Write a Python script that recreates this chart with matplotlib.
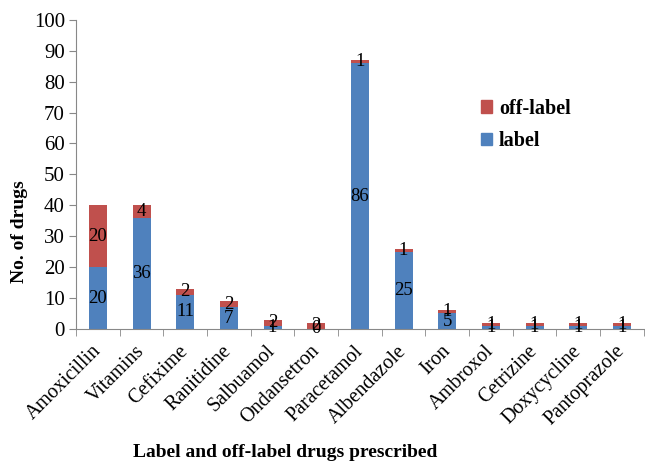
import matplotlib
matplotlib.use("Agg")
import matplotlib.pyplot as plt
import numpy as np
from matplotlib.patches import Patch
from matplotlib.ticker import FixedLocator

categories = ["Amoxicillin", "Vitamins", "Cefixime", "Ranitidine", "Salbuamol",
              "Ondansetron", "Paracetamol", "Albendazole", "Iron", "Ambroxol",
              "Cetrizine", "Doxycycline", "Pantoprazole"]
label_vals = [20, 36, 11, 7, 1, 0, 86, 25, 5, 1, 1, 1, 1]
off_label_vals = [20, 4, 2, 2, 2, 2, 1, 1, 1, 1, 1, 1, 1]

plt.rcParams['font.family'] = ['Liberation Serif', 'DejaVu Serif']

blue = "#4F81BD"
red = "#C0504D"

fig = plt.figure(figsize=(6.45, 4.62), dpi=100)
ax = fig.add_axes([0.118, 0.288, 0.88, 0.669])

x = np.arange(len(categories))
w = 0.41
ax.bar(x, label_vals, w, color=blue, label="label", zorder=2)
ax.bar(x, off_label_vals, w, bottom=label_vals, color=red, label="off-label", zorder=2)

for i in range(len(categories)):
    ax.text(x[i], label_vals[i] / 2, str(label_vals[i]), ha='center', va='center',
            fontsize=13.5, color='black', zorder=3)
    ax.text(x[i], label_vals[i] + off_label_vals[i] / 2, str(off_label_vals[i]),
            ha='center', va='center', fontsize=13.5, color='black', zorder=3)

ax.set_xlim(-0.5, len(categories) - 0.5)
ax.set_ylim(0, 100)
ax.set_yticks(np.arange(0, 101, 10))
ax.tick_params(axis='y', labelsize=15, length=5, color='#888888', pad=3)

ax.set_xticks(x)
ax.set_xticklabels(categories, rotation=45, ha='right', va='center',
                   rotation_mode='anchor', fontsize=14.5)
ax.tick_params(axis='x', which='major', length=0, pad=14)
ax.xaxis.set_minor_locator(FixedLocator(np.arange(-0.5, len(categories), 1.0)))
ax.tick_params(axis='x', which='minor', length=5, color='#888888')

for s in ['top', 'right']:
    ax.spines[s].set_visible(False)
for s in ['left', 'bottom']:
    ax.spines[s].set_color('#888888')

ax.set_ylabel("No. of drugs", fontsize=14, fontweight='bold')
ax.yaxis.set_label_coords(-0.085, 0.314)
fig.text(0.442, 0.02, "Label and off-label drugs prescribed", ha='center', va='center',
         fontsize=14, fontweight='bold')

handles = [Patch(color=red, label="off-label"), Patch(color=blue, label="label")]
ax.legend(handles=handles, loc='upper left', bbox_to_anchor=(0.713, 0.745),
          frameon=False, prop={'weight': 'bold', 'size': 14.5}, borderpad=0,
          borderaxespad=0, handlelength=0.55, handleheight=0.55, handletextpad=0.35,
          labelspacing=0.6)

fig.savefig("out.png", dpi=100)
